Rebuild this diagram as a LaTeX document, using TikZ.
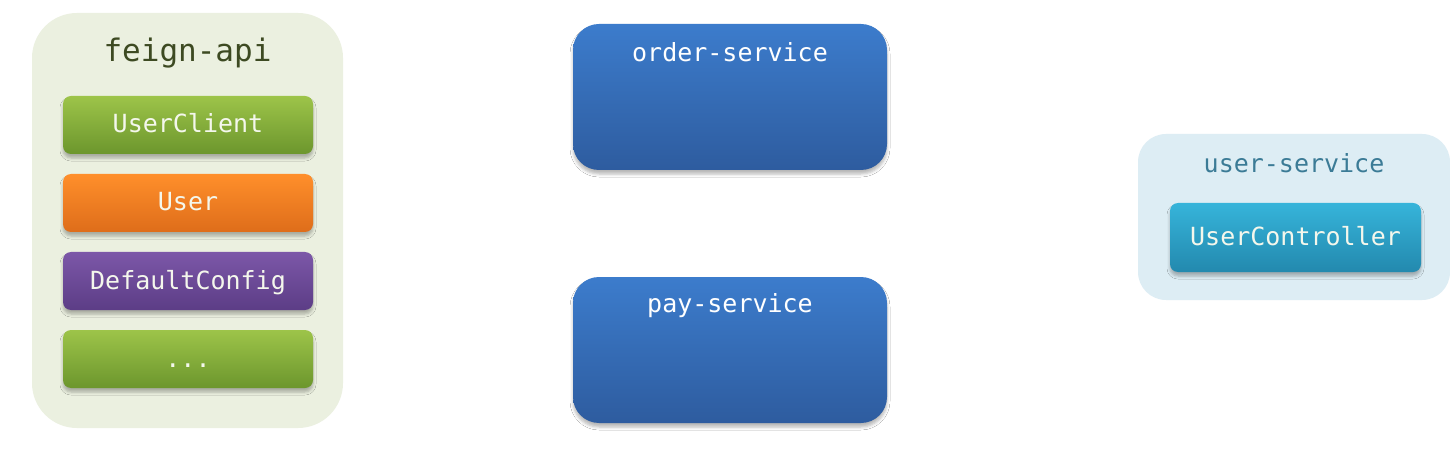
\documentclass[tikz,border=0pt]{standalone}
\usepackage{fontspec}
\setmonofont{DejaVu Sans Mono}
\usetikzlibrary{shadings,shadows.blur}
\definecolor{feignbg}{HTML}{EBF0E0}
\definecolor{feigntxt}{HTML}{3D4A22}
\definecolor{gtop}{HTML}{9DC449}
\definecolor{gbot}{HTML}{6C962D}
\definecolor{otop}{HTML}{FF8F2B}
\definecolor{obot}{HTML}{DE6D1A}
\definecolor{ptop}{HTML}{7C57A8}
\definecolor{pbot}{HTML}{5C3D86}
\definecolor{btop}{HTML}{3C7CCC}
\definecolor{bbot}{HTML}{2E5C9F}
\definecolor{usbg}{HTML}{DDEDF4}
\definecolor{ustxt}{HTML}{3B7B96}
\definecolor{ctop}{HTML}{36B4DA}
\definecolor{cbot}{HTML}{2389AE}
\definecolor{wtxt}{HTML}{F4F7EC}
\tikzset{
  mono/.style={font=\ttfamily\fontsize{25}{30}\selectfont},
  softshadow/.style={blur shadow={shadow xshift=0pt, shadow yshift=-4pt, shadow blur radius=3pt, shadow opacity=28}},
  item/.style={mono, text=wtxt, rounded corners=8pt, minimum width=250pt, minimum height=58pt, inner sep=0pt,
    text height=18pt, text depth=2pt, softshadow},
  svc/.style={mono, rounded corners=26pt, minimum width=314pt, minimum height=146pt, inner sep=0pt,
    top color=btop, bottom color=bbot, softshadow},
  svctitle/.style={mono, text=white, inner sep=0pt},
}
\begin{document}
\begin{tikzpicture}[x=1pt,y=-1pt]
\useasboundingbox[fill=white] (0,0) rectangle (1450,454);
% feign-api group
\node[fill=feignbg, rounded corners=45pt, minimum width=311pt, minimum height=415pt, inner sep=0pt] (feign) at (187.5,220.5) {};
\node[font=\ttfamily\fontsize{31}{36}\selectfont, text=feigntxt, inner sep=0pt] (feigntitle) at (187.5,53) {feign-api};
\node[item, top color=gtop, bottom color=gbot] (userclient) at (188,125) {UserClient};
\node[item, top color=otop, bottom color=obot] (user) at (188,203) {User};
\node[item, top color=ptop, bottom color=pbot] (defcfg) at (188,281) {DefaultConfig};
\node[item, top color=gtop, bottom color=gbot] (more) at (188,359) {...};
% services
\node[svc] (order) at (730,97) {};
\node[svctitle] (ordertitle) at (730,52) {order-service};
\node[svc] (pay) at (730,350) {};
\node[svctitle] (paytitle) at (730,306) {pay-service};
% user-service group
\node[fill=usbg, rounded corners=28pt, minimum width=312pt, minimum height=166pt, inner sep=0pt] (usersvc) at (1294,217) {};
\node[mono, text=ustxt, inner sep=0pt] (usertitle) at (1294,163) {user-service};
\node[item, minimum width=251pt, minimum height=69pt, top color=ctop, bottom color=cbot] (ctrl) at (1295.5,237.5) {UserController};
\end{tikzpicture}
\end{document}
